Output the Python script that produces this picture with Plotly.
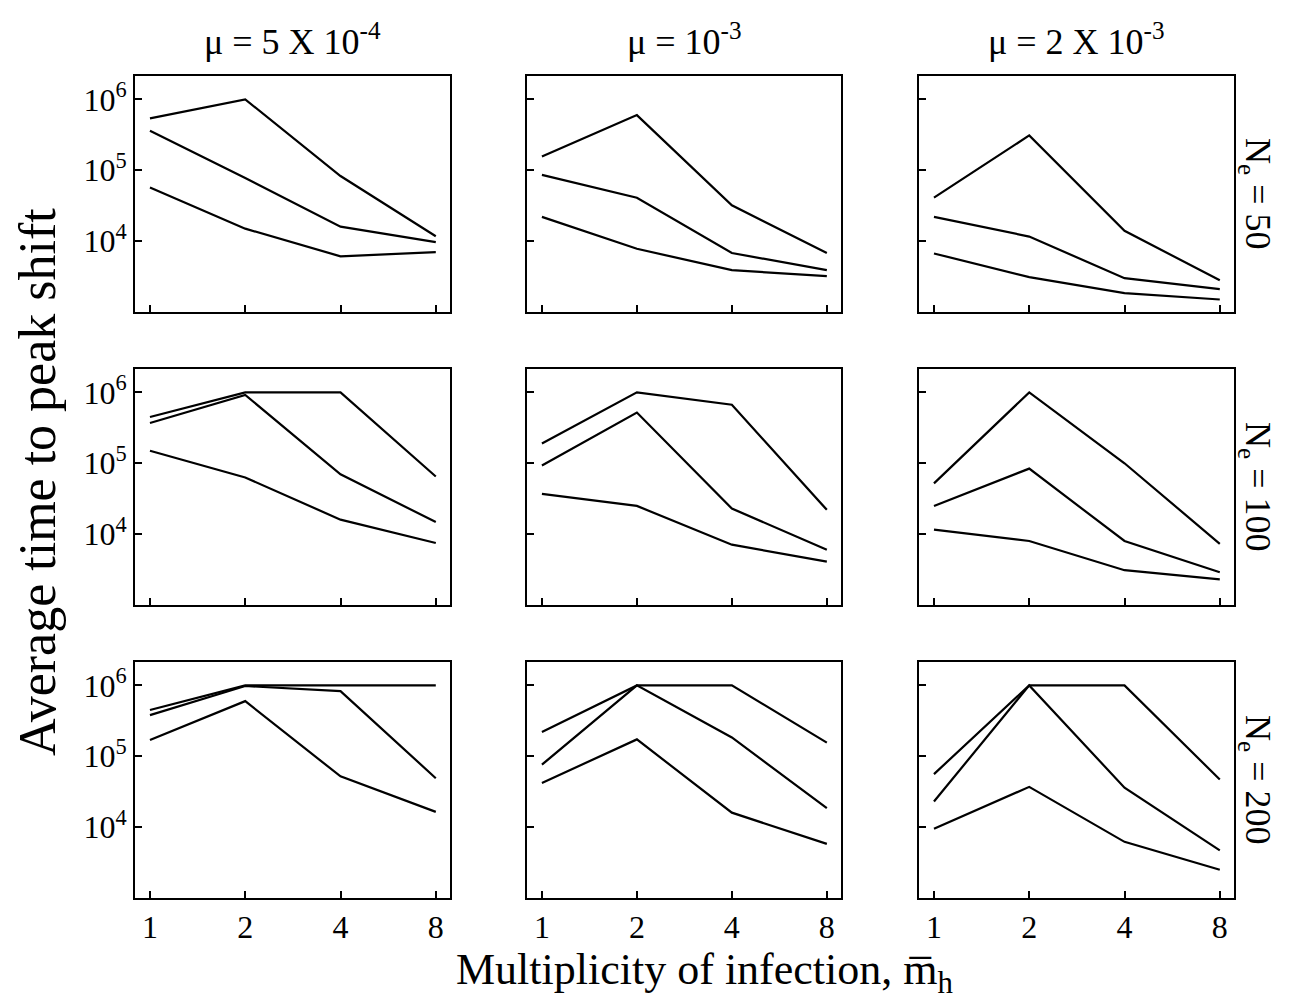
import plotly.graph_objects as go

# x values (multiplicity of infection)
moi = [1, 2, 4, 8]
x_tick_labels = ["1", "2", "4", "8"]
y_tick_vals = [1e4, 1e5, 1e6]
y_tick_labels = ["10<sup>4</sup>", "10<sup>5</sup>", "10<sup>6</sup>"]

col_titles = ["\u03bc = 5 X 10<sup>-4</sup>", "\u03bc = 10<sup>-3</sup>", "\u03bc = 2 X 10<sup>-3</sup>"]
row_labels = ["N<sub>e</sub> = 50", "N<sub>e</sub> = 100", "N<sub>e</sub> = 200"]

# Row Ne=50
ne50_mu1_a = [5.4e5, 1.0e6, 8.3e4, 1.17e4]
ne50_mu1_b = [3.6e5, 7.8e4, 1.6e4, 9.7e3]
ne50_mu1_c = [5.7e4, 1.5e4, 6.1e3, 7.0e3]
ne50_mu2_a = [1.56e5, 6.0e5, 3.2e4, 6.8e3]
ne50_mu2_b = [8.6e4, 4.1e4, 6.8e3, 3.9e3]
ne50_mu2_c = [2.2e4, 7.8e3, 3.9e3, 3.2e3]
ne50_mu3_a = [4.1e4, 3.1e5, 1.4e4, 2.8e3]
ne50_mu3_b = [2.2e4, 1.16e4, 3.0e3, 2.1e3]
ne50_mu3_c = [6.7e3, 3.1e3, 1.85e3, 1.5e3]

# Row Ne=100
ne100_mu1_a = [4.5e5, 1.0e6, 1.0e6, 6.5e4]
ne100_mu1_b = [3.7e5, 9.2e5, 7.0e4, 1.48e4]
ne100_mu1_c = [1.5e5, 6.3e4, 1.6e4, 7.5e3]
ne100_mu2_a = [1.9e5, 1.0e6, 6.7e5, 2.2e4]
ne100_mu2_b = [9.3e4, 5.2e5, 2.3e4, 6.0e3]
ne100_mu2_c = [3.7e4, 2.5e4, 7.1e3, 4.1e3]
ne100_mu3_a = [5.2e4, 1.0e6, 1.0e5, 7.3e3]
ne100_mu3_b = [2.5e4, 8.4e4, 8.0e3, 2.9e3]
ne100_mu3_c = [1.16e4, 8.0e3, 3.1e3, 2.3e3]

# Row Ne=200
ne200_mu1_a = [4.5e5, 1.0e6, 1.0e6, 1.0e6]
ne200_mu1_b = [3.8e5, 9.8e5, 8.3e5, 4.9e4]
ne200_mu1_c = [1.7e5, 6.0e5, 5.2e4, 1.64e4]
ne200_mu2_a = [2.2e5, 1.0e6, 1.0e6, 1.56e5]
ne200_mu2_b = [7.6e4, 1.0e6, 1.84e5, 1.85e4]
ne200_mu2_c = [4.2e4, 1.73e5, 1.6e4, 5.8e3]
ne200_mu3_a = [5.6e4, 1.0e6, 1.0e6, 4.7e4]
ne200_mu3_b = [2.3e4, 1.0e6, 3.6e4, 4.7e3]
ne200_mu3_c = [9.5e3, 3.7e4, 6.2e3, 2.5e3]

panels = [
    [[ne50_mu1_a, ne50_mu1_b, ne50_mu1_c], [ne50_mu2_a, ne50_mu2_b, ne50_mu2_c], [ne50_mu3_a, ne50_mu3_b, ne50_mu3_c]],
    [[ne100_mu1_a, ne100_mu1_b, ne100_mu1_c], [ne100_mu2_a, ne100_mu2_b, ne100_mu2_c], [ne100_mu3_a, ne100_mu3_b, ne100_mu3_c]],
    [[ne200_mu1_a, ne200_mu1_b, ne200_mu1_c], [ne200_mu2_a, ne200_mu2_b, ne200_mu2_c], [ne200_mu3_a, ne200_mu3_b, ne200_mu3_c]],
]

OFF = 8  # page body margin
W, H = 1291 - 2 * OFF, 1007 - 2 * OFF
FONT = "Liberation Serif"
col_px = [(135, 450), (527, 841), (919, 1234)]
row_px = [(76, 312), (369, 605), (662, 898)]


def fx(px):
    return (px - OFF) / W


def fy(py):
    return 1 - (py - OFF) / H


fig = go.Figure()
layout = {}
for r in range(3):
    for c in range(3):
        idx = r * 3 + c + 1
        xa = "x" if idx == 1 else f"x{idx}"
        ya = "y" if idx == 1 else f"y{idx}"
        for series in panels[r][c]:
            fig.add_trace(go.Scatter(x=moi, y=series, mode="lines",
                                     line=dict(color="black", width=2.2),
                                     xaxis=xa, yaxis=ya, showlegend=False,
                                     hoverinfo="x+y"))
        x0, x1 = col_px[c]
        y0, y1 = row_px[r]
        common = dict(showline=True, linecolor="black", linewidth=2, mirror=True,
                      ticks="inside", ticklen=7, tickwidth=1.5, tickcolor="black",
                      showgrid=False, zeroline=False,
                      tickfont=dict(family=FONT, size=32, color="black"))
        layout["xaxis" if idx == 1 else f"xaxis{idx}"] = dict(
            common, type="log", domain=[fx(x0), fx(x1)],
            range=[-0.0473, 0.948], tickvals=moi, ticktext=x_tick_labels,
            showticklabels=(r == 2), anchor=ya)
        layout["yaxis" if idx == 1 else f"yaxis{idx}"] = dict(
            common, type="log", domain=[fy(y1), fy(y0)],
            range=[3.0, 6.33], tickvals=y_tick_vals, ticktext=y_tick_labels,
            showticklabels=(c == 0), anchor=xa)

annotations = []
for c in range(3):
    x0, x1 = col_px[c]
    annotations.append(dict(text=col_titles[c], x=fx((x0 + x1) / 2), y=fy(40),
                            xref="paper", yref="paper", showarrow=False,
                            xanchor="center", yanchor="middle",
                            font=dict(family=FONT, size=36, color="black")))
for r in range(3):
    y0, y1 = row_px[r]
    annotations.append(dict(text=row_labels[r], x=fx(1256), y=fy((y0 + y1) / 2),
                            xref="paper", yref="paper", showarrow=False, textangle=90,
                            xanchor="center", yanchor="middle",
                            font=dict(family=FONT, size=36, color="black")))
annotations.append(dict(text="Average time to peak shift", x=fx(38), y=fy(482),
                        xref="paper", yref="paper", showarrow=False, textangle=-90,
                        xanchor="center", yanchor="middle",
                        font=dict(family=FONT, size=52, color="black")))
annotations.append(dict(text="Multiplicity of infection, m\u0305<sub>h</sub>", x=fx(704), y=fy(972),
                        xref="paper", yref="paper", showarrow=False,
                        xanchor="center", yanchor="middle",
                        font=dict(family=FONT, size=44, color="black")))

fig.update_layout(width=W, height=H, margin=dict(l=0, r=0, t=0, b=0),
                  paper_bgcolor="white", plot_bgcolor="white",
                  annotations=annotations, **layout)
fig.write_html("out.html")
